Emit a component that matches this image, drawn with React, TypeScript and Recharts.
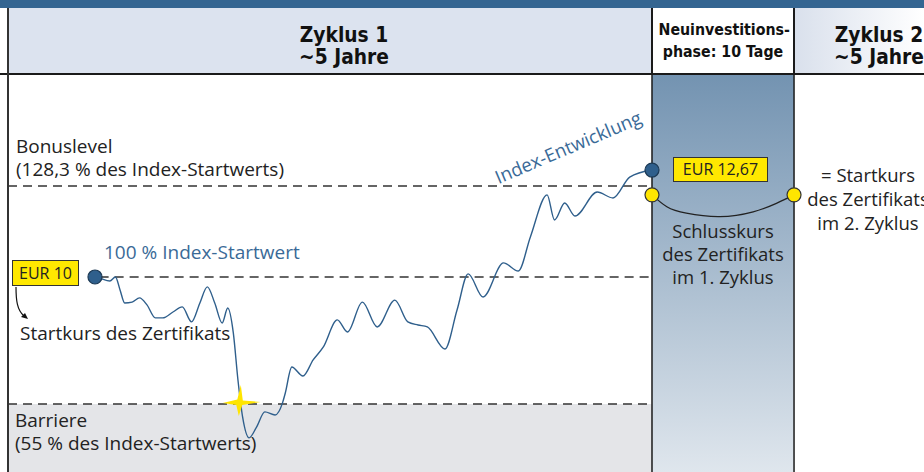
import {
  ComposedChart, Line, XAxis, YAxis, ReferenceArea, ReferenceLine, ReferenceDot,
} from 'recharts';

// time axis in months (cycle 1 = 60 months), index level in % of start value
const MONTHS = [0, 0.5, 1.6, 2.2, 2.7, 3.2, 4.0, 4.8, 5.6, 6.5, 7.3, 8.4, 9.4, 10.4, 11.3, 12.1, 12.9, 13.7, 14.3, 14.9, 15.4, 15.9, 16.6, 17.4, 18.3, 19.4, 20.2, 20.5, 21.2, 22.4, 23.5, 24.6, 26.1, 27.2, 28.8, 30.4, 32.3, 33.7, 34.8, 35.8, 37.7, 39.0, 40.2, 41.8, 44.0, 45.6, 46.9, 48.7, 49.5, 50.6, 51.7, 54.1, 55.8, 57.6, 60.0];
const INDEX = [100, 99.6, 98.6, 100, 95.4, 90.8, 91.1, 92.6, 90.1, 85.5, 85.5, 87.6, 89.4, 84.1, 90.8, 96.5, 90.8, 83.7, 89.0, 80.2, 63.5, 50.4, 43.0, 46.8, 52.2, 51.1, 55.4, 58.9, 68.1, 64.9, 70.6, 75.2, 84.8, 80.5, 91.1, 82.3, 91.8, 84.1, 83.0, 82.3, 74.5, 88.3, 101.1, 92.9, 105.0, 102.1, 114.2, 129.1, 120.2, 126.2, 121.6, 130.1, 128.0, 135.4, 137.9];

// arc linking closing price of cycle 1 to start price of cycle 2
const ARC_M = [60, 61.6, 63.7, 67.3, 70.9, 73.4, 75.3];
const ARC_V = [129.1, 124.9, 122.6, 121.4, 123.1, 126.1, 129.1];

const START_LEVEL = 100;
const BONUS_LEVEL = 132.25;   // drawn position of the 128,3 % line
const BARRIER_LEVEL = 55;
const CERT_CLOSE = 129.1;
const CYCLE_END = 60;
const PHASE_END = 75.3;
const BREACH = { m: 15.6, v: 55.7 };

const X_MIN = -9.37;
const X_MAX = 89.3;
const Y_MIN = 30.9;
const Y_MAX = 171.93;

const indexData = MONTHS.map((m, i) => ({ m, v: INDEX[i] }));
const arcData = ARC_M.map((m, i) => ({ m, v: ARC_V[i] }));

const BODY_FONT = '"Open Sans", Lato, sans-serif';
const HEAD_FONT = '"DejaVu Sans", sans-serif';
const BLUE = '#2f5f8c';

const txt = (x: number, y: number, extra: any = {}) => ({
  position: 'absolute' as const, left: x, top: y, fontFamily: BODY_FONT, fontSize: 19,
  color: '#222', whiteSpace: 'nowrap' as const, lineHeight: '22px', ...extra,
});

const head = (extra: any = {}) => ({
  position: 'absolute' as const, textAlign: 'center' as const, fontFamily: HEAD_FONT,
  fontWeight: 700, color: '#111', whiteSpace: 'nowrap' as const, ...extra,
});

const Star = (props: any) => {
  const { cx, cy } = props;
  const d = `M ${cx - 17} ${cy + 1} L ${cx - 2.5} ${cy - 2.5} L ${cx + 1} ${cy - 17} L ${cx + 3} ${cy - 1.5} L ${cx + 21} ${cy} L ${cx + 2.5} ${cy + 3} L ${cx - 1} ${cy + 14} L ${cx - 3.5} ${cy + 3} Z`;
  return <path d={d} fill="#ffe500" stroke="none" />;
};

export default function App() {
  return (
    <div style={{ position: 'absolute', left: 0, top: 0, width: 924, height: 472, overflow: 'hidden', background: '#fff' }}>
      <ComposedChart width={924} height={472} data={indexData} margin={{ top: 74, right: 0, bottom: 0, left: 8 }}>
        <defs>
          <linearGradient id="phaseGrad" x1="0" y1="0" x2="0" y2="1">
            <stop offset="0%" stopColor="#7393b1" />
            <stop offset="100%" stopColor="#dfe6ed" />
          </linearGradient>
        </defs>
        <XAxis type="number" dataKey="m" domain={[X_MIN, X_MAX]} allowDataOverflow hide />
        <YAxis type="number" domain={[Y_MIN, Y_MAX]} allowDataOverflow hide width={0} />

        <ReferenceArea x1={X_MIN} x2={CYCLE_END} y1={Y_MIN} y2={BARRIER_LEVEL} fill="#e4e5e8" fillOpacity={1} stroke="none" />
        <ReferenceArea x1={CYCLE_END} x2={PHASE_END} y1={Y_MIN} y2={Y_MAX} fill="url(#phaseGrad)" fillOpacity={1} stroke="none" />

        <ReferenceLine segment={[{ x: X_MIN, y: BONUS_LEVEL }, { x: CYCLE_END, y: BONUS_LEVEL }]} stroke="#333" strokeWidth={1.3} strokeDasharray="9 6" />
        <ReferenceLine segment={[{ x: 0.5, y: START_LEVEL }, { x: CYCLE_END, y: START_LEVEL }]} stroke="#333" strokeWidth={1.3} strokeDasharray="9 6" />
        <ReferenceLine segment={[{ x: X_MIN, y: BARRIER_LEVEL }, { x: CYCLE_END, y: BARRIER_LEVEL }]} stroke="#333" strokeWidth={1.3} strokeDasharray="9 6" />
        <ReferenceLine x={CYCLE_END} stroke="#1a1a1a" strokeWidth={1.5} />
        <ReferenceLine x={PHASE_END} stroke="#1a1a1a" strokeWidth={1.5} />

        <Line type="monotone" dataKey="v" stroke={BLUE} strokeWidth={1.4} dot={false} isAnimationActive={false} />
        <Line data={arcData} type="natural" dataKey="v" stroke="#222" strokeWidth={1.3} dot={false} isAnimationActive={false} />

        <ReferenceDot x={BREACH.m} y={BREACH.v} r={10} shape={Star} />
        <ReferenceDot x={0} y={START_LEVEL} r={7} fill={BLUE} stroke="#1d3a55" strokeWidth={1.2} />
        <ReferenceDot x={CYCLE_END} y={INDEX[INDEX.length - 1]} r={7} fill={BLUE} stroke="#1d3a55" strokeWidth={1.2} />
        <ReferenceDot x={CYCLE_END} y={CERT_CLOSE} r={7} fill="#ffe500" stroke="#333" strokeWidth={1.2} />
        <ReferenceDot x={PHASE_END} y={CERT_CLOSE} r={7} fill="#ffe500" stroke="#333" strokeWidth={1.2} />
      </ComposedChart>

      {/* top band and header row */}
      <div style={{ position: 'absolute', left: 0, top: 0, width: 924, height: 8, background: '#346591' }} />
      <div style={{ position: 'absolute', left: 8, top: 8, width: 644, height: 66, background: '#dce3ef' }} />
      <div style={{ position: 'absolute', left: 652, top: 8, width: 142, height: 66, background: '#fff' }} />
      <div style={{ position: 'absolute', left: 794, top: 8, width: 130, height: 66, background: 'linear-gradient(to right, #d9e0ec, #ffffff)' }} />
      <div style={{ position: 'absolute', left: 651, top: 8, width: 1.5, height: 66, background: '#1a1a1a' }} />
      <div style={{ position: 'absolute', left: 793, top: 8, width: 1.5, height: 66, background: '#1a1a1a' }} />
      <div style={{ position: 'absolute', left: 0, top: 73, width: 924, height: 1.5, background: '#1a1a1a' }} />
      <div style={{ position: 'absolute', left: 7, top: 8, width: 2, height: 464, background: '#333' }} />

      <div style={head({ left: 244, top: 24, width: 200, fontSize: 20.5, lineHeight: '22px', transform: 'scaleX(0.91)' })}>
        Zyklus 1<br />~5 Jahre
      </div>
      <div style={head({ left: 648, top: 19, width: 150, fontSize: 16.5, lineHeight: '22px', transform: 'scaleX(0.86)' })}>
        Neuinvestitions-<br />phase: 10 Tage
      </div>
      <div style={head({ left: 819, top: 24, width: 120, fontSize: 20.5, lineHeight: '22px', transform: 'scaleX(0.91)' })}>
        Zyklus 2<br />~5 Jahre
      </div>

      {/* annotations */}
      <div style={txt(16, 135, { lineHeight: '23px' })}>Bonuslevel<br />(128,3 % des Index-Startwerts)</div>
      <div style={txt(104, 241, { color: '#3a6a97' })}>100 % Index-Startwert</div>
      <div style={txt(20, 322)}>Startkurs des Zertifikats</div>
      <div style={txt(15, 409, { lineHeight: '23px' })}>Barriere<br />(55 % des Index-Startwerts)</div>
      <div style={txt(568, 147, { color: '#3a6a97', fontSize: 18.5, transform: 'translate(-50%, -50%) rotate(-23deg)' })}>Index-Entwicklung</div>
      <div style={txt(652, 219, { width: 142, textAlign: 'center', lineHeight: '23px', fontSize: 18.5 })}>
        Schlusskurs<br />des Zertifikats<br />im 1. Zyklus
      </div>
      <div style={txt(798, 163, { width: 140, textAlign: 'center', lineHeight: '24px', fontSize: 18.5 })}>
        = Startkurs<br />des Zertifikats<br />im 2. Zyklus
      </div>

      <div style={txt(12, 260, { width: 65, height: 24, lineHeight: '24px', background: '#ffe800', border: '1px solid #333', fontSize: 16, textAlign: 'center' })}>EUR 10</div>
      <div style={txt(673, 157, { width: 93, height: 23, lineHeight: '23px', background: '#ffe800', border: '1px solid #333', fontSize: 16, textAlign: 'center' })}>EUR 12,67</div>

      <svg style={{ position: 'absolute', left: 0, top: 0 }} width={924} height={472}>
        <path d="M 16 287 C 16 300, 17 310, 24 316" fill="none" stroke="#111" strokeWidth={1.2} />
        <path d="M 28 319 L 21 317 L 25 313 Z" fill="#111" />
      </svg>
    </div>
  );
}
